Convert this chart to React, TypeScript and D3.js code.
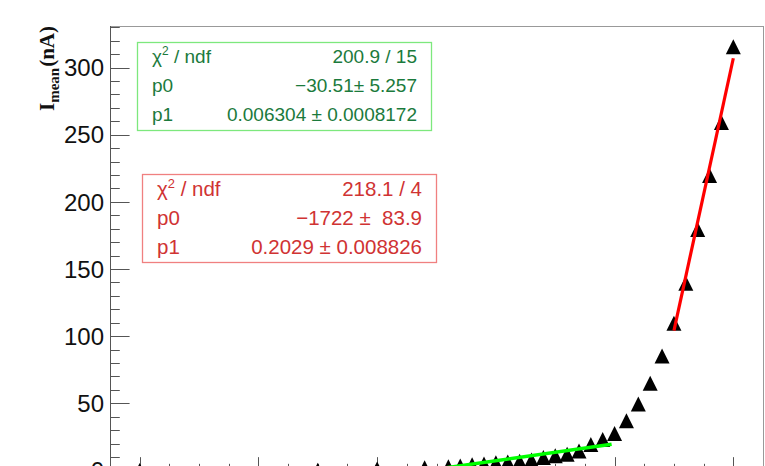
import React from 'react'
import * as d3 from 'd3'

// HV scan: mean current vs applied voltage
const voltages = [0, 3000, 4000, 4800, 5200, 5400, 5600, 5800, 6000, 6200, 6400, 6600, 6800, 7000,
  7200, 7400, 7600, 7800, 8000, 8200, 8400, 8600, 8800, 9000, 9200, 9400, 9600, 9800, 10000]
const currents = [0.0, 0.2, 1.2, 2.0, 2.7, 3.4, 4.2, 4.9, 5.7, 6.4, 6.9, 7.9, 9.6, 10.9,
  12.1, 14.6, 19.3, 23.0, 27.5, 37.0, 49.5, 64.9, 85.2, 109.6, 139.4, 179.5, 219.6, 259.1, 315.5]

// linear fits  I = p0 + p1 * V
const greenFit = { p0: -30.51, p1: 0.006304, from: 4800, to: 7950 }
const redFit = { p0: -1722, p1: 0.2029, from: 9000, to: 10000 }

const greenStats = [
  ['χ² / ndf', '200.9 / 15'],
  ['p0', '−30.51± 5.257'],
  ['p1', '0.006304 ± 0.0008172'],
]
const redStats = [
  ['χ² / ndf', '218.1 / 4'],
  ['p0', '−1722 ±  83.9'],
  ['p1', '0.2029 ± 0.008826'],
]

const yTickLabels = [0, 50, 100, 150, 200, 250, 300]

const W = 765
const H = 466
const sans = '"Liberation Sans", Arial, Helvetica, sans-serif'

function StatBox(props: { x: number, y: number, w: number, h: number, rows: string[][], text: string, border: string, fs: number }) {
  const { x, y, w, h, rows, text, border, fs } = props
  return (
    <g>
      <rect x={x + 0.5} y={y + 0.5} width={w} height={h} fill="white" stroke={border} strokeWidth={1.3} />
      {rows.map((r, i) => {
        const cy = y + 14.5 + i * 29
        const label = r[0] === 'χ² / ndf'
          ? <text x={x + 15} y={cy} dy="0.36em" fill={text} fontSize={fs} fontFamily={sans}>χ<tspan fontSize={fs * 0.63} dy={-8}>2</tspan><tspan dy={8}> / ndf</tspan></text>
          : <text x={x + 15} y={cy} dy="0.36em" fill={text} fontSize={fs} fontFamily={sans}>{r[0]}</text>
        return (
          <g key={i}>
            {label}
            <text x={x + w - 14} y={cy} dy="0.36em" fill={text} fontSize={fs} fontFamily={sans}
              textAnchor="end" style={{ whiteSpace: 'pre' }}>{r[1]}</text>
          </g>
        )
      })}
    </g>
  )
}

export default function App() {
  const left = 110, right = 763, top = 26, bottom = 470.5
  const x = d3.scaleLinear().domain([-500, 10500]).range([left, right])
  const y = d3.scaleLinear().domain([0, 331]).range([bottom, top])

  const fitLine = (f: { p0: number, p1: number, from: number, to: number }) =>
    d3.line<number>().x(v => x(v)).y(v => y(f.p0 + f.p1 * v))([f.from, f.to]) || ''

  const s = 7.5
  const tri = (cx: number, cy: number) =>
    `M${cx - s},${cy + s}L${cx + s},${cy + s}L${cx},${cy - s}Z`

  const yTicks = d3.range(0, 331, 10)
  const xTicks = d3.range(0, 10001, 500)
  const frameH = bottom - top
  const frameW = right - left

  return (
    <svg width={W} height={H} style={{ position: 'fixed', left: 0, top: 0, background: 'white' }}>
      <rect width={W} height={H} fill="white" />

      {/* frame */}
      <line x1={left} y1={top + 0.5} x2={right} y2={top + 0.5} stroke="#999" />
      <line x1={right + 0.5} y1={top} x2={right + 0.5} y2={bottom} stroke="#999" />
      <line x1={left} y1={bottom} x2={right} y2={bottom} stroke="#555" />
      <line x1={left + 0.5} y1={top} x2={left + 0.5} y2={bottom} stroke="#555" />

      {/* y axis ticks */}
      {yTicks.map(t => (
        <line key={'y' + t} x1={left} x2={left + (t % 50 === 0 ? 0.03 : 0.015) * frameW}
          y1={Math.round(y(t)) + 0.5} y2={Math.round(y(t)) + 0.5} stroke="#555" />
      ))}
      {yTickLabels.map(t => (
        <text key={'yl' + t} x={left - 6} y={y(t)} dy="0.36em" textAnchor="end"
          fontSize={24} fontFamily={sans} fill="#111">{t}</text>
      ))}

      {/* x axis ticks */}
      {xTicks.map(t => (
        <line key={'x' + t} x1={Math.round(x(t)) + 0.5} x2={Math.round(x(t)) + 0.5}
          y1={bottom} y2={bottom - (t % 2000 === 0 ? 0.03 : 0.015) * frameH} stroke="#555" />
      ))}

      {/* y title */}
      <text transform={`translate(54,111) rotate(-90)`} fontFamily='"Liberation Serif", "Times New Roman", serif'
        fontWeight="bold" fontSize={21} fill="#111">
        I<tspan fontSize={15} dy={5}>mean</tspan><tspan dy={-5} dx={1}>(nA)</tspan>
      </text>

      {/* data points */}
      {voltages.map((v, i) => (
        <path key={'p' + i} d={tri(x(v), y(currents[i]))} fill="black" />
      ))}

      {/* fits */}
      <path d={fitLine(greenFit)} stroke="#00ff00" strokeWidth={3.5} fill="none" />
      <path d={fitLine(redFit)} stroke="#ff0000" strokeWidth={3.2} fill="none" />

      <StatBox x={137} y={42} w={294} h={88} rows={greenStats} text="#1b7a3c" border="#7de87d" fs={19} />
      <StatBox x={142} y={174} w={294} h={88} rows={redStats} text="#d03333" border="#f08080" fs={20.5} />
    </svg>
  )
}
